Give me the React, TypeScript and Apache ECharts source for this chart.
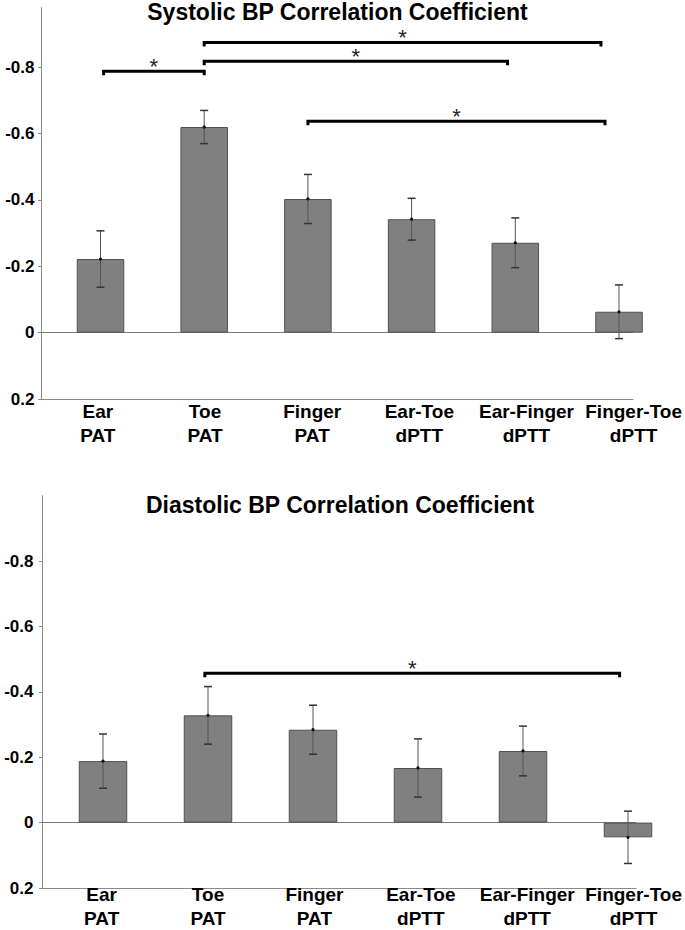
import React, { useEffect, useRef } from "react";
import * as echarts from "echarts";

// ---------- data ----------
const categories = [
  "Ear\nPAT",
  "Toe\nPAT",
  "Finger\nPAT",
  "Ear-Toe\ndPTT",
  "Ear-Finger\ndPTT",
  "Finger-Toe\ndPTT",
];
const yTickValues = [-0.8, -0.6, -0.4, -0.2, 0, 0.2];

const systolicMean = [-0.222, -0.62, -0.403, -0.342, -0.271, -0.063];
const systolicErr = [0.085, 0.05, 0.074, 0.063, 0.075, 0.081];
const diastolicMean = [-0.188, -0.328, -0.284, -0.167, -0.219, 0.045];
const diastolicErr = [0.083, 0.088, 0.075, 0.089, 0.076, 0.08];

// significance brackets: from category, to category, level (correlation value)
const systolicSigFrom = [0.03, 1, 1, 2];
const systolicSigTo = [1, 3.925, 4.826, 4.865];
const systolicSigLevel = [-0.788, -0.818, -0.875, -0.637];
const diastolicSigFrom = [0.97];
const diastolicSigTo = [4.92];
const diastolicSigLevel = [-0.457];

const titles = [
  "Systolic BP Correlation Coefficient",
  "Diastolic BP Correlation Coefficient",
];

// ---------- layout ----------
const FONT = "'Liberation Sans', Arial, Helvetica, sans-serif";
const PAGE_W = 685;

const panels = [
  {
    left: 41, right: 633, top: 7.6, bottom: 399, yMin: -0.98, yMax: 0.2,
    c0: 100.5, step: 103.7, l0: 98, lstep: 107.4, tickMargin: 6.5, barWidth: 47.5,
    titleX: 337.5, titleY: 12,
  },
  {
    left: 42, right: 636, top: 495.6, bottom: 888, yMin: -1.0, yMax: 0.2,
    c0: 103, step: 105, l0: 102, lstep: 107, tickMargin: 8.5, barWidth: 48.5,
    titleX: 340, titleY: 504.5,
  },
];

const seriesData = [
  { mean: systolicMean, err: systolicErr, from: systolicSigFrom, to: systolicSigTo, level: systolicSigLevel },
  { mean: diastolicMean, err: diastolicErr, from: diastolicSigFrom, to: diastolicSigTo, level: diastolicSigLevel },
];

function buildOption() {
  const grid: any[] = [];
  const xAxis: any[] = [];
  const yAxis: any[] = [];
  const series: any[] = [];
  const graphic: any[] = [];
  const catIdx = categories.map((_, i) => i);

  panels.forEach((p, g) => {
    // plot grid
    grid.push({ left: p.left, top: p.top, width: p.right - p.left, height: p.bottom - p.top });
    // label grid (wider, so the last category label fits)
    grid.push({ left: p.left, top: p.top, width: PAGE_W - p.left, height: p.bottom - p.top });

    // bar axis (plot grid)
    xAxis.push({
      gridIndex: g * 2,
      type: "value",
      min: (p.left - p.c0) / p.step,
      max: (p.right - p.c0) / p.step,
      axisLine: { show: true, onZero: false, lineStyle: { color: "#8a8a8a", width: 1 } },
      axisTick: { show: false },
      axisLabel: { show: false },
      splitLine: { show: false },
    });
    // label axis (label grid)
    xAxis.push({
      gridIndex: g * 2 + 1,
      type: "value",
      position: "bottom",
      min: (p.left - p.l0) / p.lstep,
      max: (PAGE_W - p.l0) / p.lstep,
      axisLine: { show: false, onZero: false },
      axisTick: { show: false },
      splitLine: { show: false },
      axisLabel: {
        show: true,
        customValues: catIdx,
        formatter: (v: number) => categories[Math.round(v)] ?? "",
        fontFamily: FONT,
        fontWeight: "bold",
        fontSize: 19,
        lineHeight: 24,
        color: "#000",
        margin: 0,
        align: "center",
        verticalAlign: "top",
      },
    });
    yAxis.push({
      gridIndex: g * 2,
      type: "value",
      inverse: true,
      min: p.yMin,
      max: p.yMax,
      axisLine: { show: true, onZero: false, lineStyle: { color: "#8a8a8a", width: 1 } },
      axisTick: { show: true, customValues: yTickValues, length: 3, lineStyle: { color: "#8a8a8a" } },
      splitLine: { show: false },
      axisLabel: {
        show: true,
        customValues: yTickValues,
        formatter: (v: number) => (Math.abs(v) < 1e-9 ? "0" : v.toFixed(1)),
        fontFamily: FONT,
        fontWeight: "bold",
        fontSize: 17,
        color: "#000",
        margin: p.tickMargin,
      },
    });
    yAxis.push({
      gridIndex: g * 2 + 1,
      type: "value",
      show: false,
      min: p.yMin,
      max: p.yMax,
    });

    const d = seriesData[g];
    series.push({
      type: "bar",
      xAxisIndex: g * 2,
      yAxisIndex: g * 2,
      barWidth: p.barWidth,
      clip: false,
      data: d.mean.map((v, i) => [i, v]),
      itemStyle: { color: "#808080", borderColor: "#505050", borderWidth: 1 },
      z: 2,
      markLine: {
        silent: true,
        symbol: ["none", "none"],
        label: { show: false },
        lineStyle: { color: "#7a7a7a", width: 1, type: "solid" },
        data: [{ yAxis: 0 }],
        z: 1,
      },
    });
    series.push({
      type: "custom",
      xAxisIndex: g * 2,
      yAxisIndex: g * 2,
      clip: false,
      z: 5,
      data: d.mean.map((v, i) => [i, v, d.err[i]]),
      renderItem: (params: any, api: any) => {
        const x = api.value(0);
        const m = api.value(1);
        const e = api.value(2);
        const top = api.coord([x, m - e]);
        const bot = api.coord([x, m + e]);
        const mid = api.coord([x, m]);
        const cap = 4;
        return {
          type: "group",
          children: [
            { type: "line", shape: { x1: top[0], y1: top[1], x2: bot[0], y2: bot[1] }, style: { stroke: "#555", lineWidth: 1 } },
            { type: "line", shape: { x1: top[0] - cap, y1: top[1], x2: top[0] + cap, y2: top[1] }, style: { stroke: "#333", lineWidth: 1.5 } },
            { type: "line", shape: { x1: bot[0] - cap, y1: bot[1], x2: bot[0] + cap, y2: bot[1] }, style: { stroke: "#333", lineWidth: 1.5 } },
            { type: "circle", shape: { cx: mid[0], cy: mid[1], r: 1.6 }, style: { fill: "#111" } },
          ],
        };
      },
    });
    series.push({
      type: "custom",
      xAxisIndex: g * 2,
      yAxisIndex: g * 2,
      clip: false,
      z: 6,
      data: d.from.map((f, i) => [f, d.to[i], d.level[i]]),
      renderItem: (params: any, api: any) => {
        const a = api.coord([api.value(0), api.value(2)]);
        const b = api.coord([api.value(1), api.value(2)]);
        const tick = 4;
        return {
          type: "group",
          children: [
            {
              type: "polyline",
              shape: { points: [[a[0], a[1] + tick], [a[0], a[1]], [b[0], b[1]], [b[0], b[1] + tick]] },
              style: { stroke: "#000", lineWidth: 3, fill: null, lineJoin: "miter" },
            },
            {
              type: "text",
              x: (a[0] + b[0]) / 2,
              y: a[1] - 5,
              style: { text: "*", fontSize: 22, fontFamily: FONT, fill: "#222", align: "center", verticalAlign: "middle" },
            },
          ],
        };
      },
    });

    graphic.push({
      type: "text",
      x: p.titleX,
      y: p.titleY,
      style: {
        text: titles[g],
        fontFamily: FONT,
        fontWeight: "bold",
        fontSize: 23,
        fill: "#000",
        align: "center",
        textAlign: "center",
        verticalAlign: "middle",
        textVerticalAlign: "middle",
      },
    });
  });

  return {
    animation: false,
    backgroundColor: "#ffffff",
    grid,
    xAxis,
    yAxis,
    series,
    graphic,
  };
}

export default function App() {
  const ref = useRef<HTMLDivElement>(null);
  useEffect(() => {
    if (!ref.current) return;
    const chart = echarts.init(ref.current, undefined, { renderer: "svg" });
    chart.setOption(buildOption() as any);
    return () => chart.dispose();
  }, []);
  return (
    <div
      ref={ref}
      style={{ position: "absolute", left: 0, top: 0, width: 685, height: 930, background: "#fff" }}
    />
  );
}
